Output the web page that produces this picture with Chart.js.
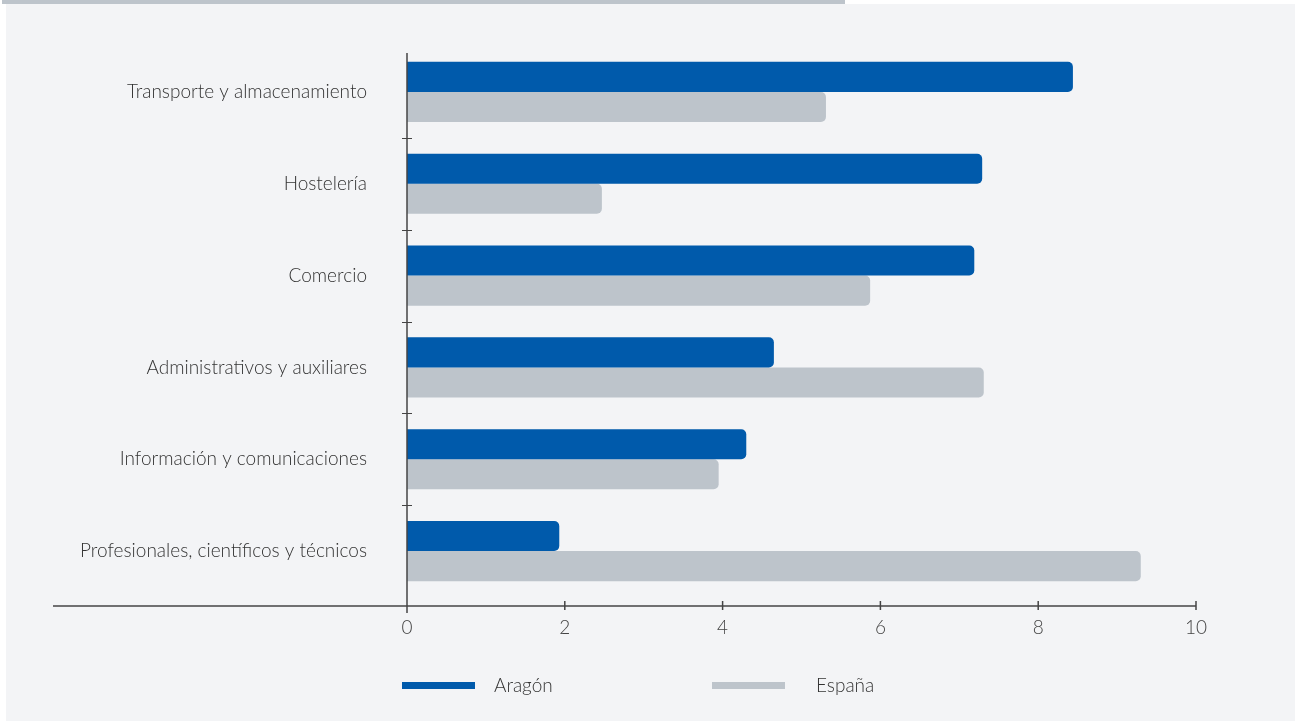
<!DOCTYPE html>
<html>
<head>
<meta charset="utf-8">
<script src="https://cdn.jsdelivr.net/npm/chart.js@4.4.1/dist/chart.umd.min.js"></script>
<style>
  html, body { margin: 0; padding: 0; background: #ffffff; }
  body { width: 1295px; height: 721px; position: relative; overflow: hidden; font-family: Lato, "Open Sans", sans-serif; }
  #band { position: absolute; left: 2px; top: 0; width: 843px; height: 4px; background: #bdc4cb; }
  #panel { position: absolute; left: 6px; top: 4px; width: 1289px; height: 717px; background: #f3f4f6; }
  #wrap { position: absolute; left: 0; top: 0; width: 1295px; height: 721px; }
  .leg { position: absolute; top: 673px; font-size: 19px; color: #333; font-weight: 300; }
  .leg span.sw { position: absolute; top: 9px; width: 73px; height: 7px; }
  .leg span.tx { position: absolute; white-space: nowrap; }
</style>
</head>
<body>
<div id="band"></div>
<div id="panel"></div>
<div id="wrap"><canvas id="chart" width="1295" height="721"></canvas></div>
<div class="leg" style="left:402px"><span class="sw" style="left:0;background:#005aab"></span><span class="tx" style="left:92px">Aragón</span></div>
<div class="leg" style="left:712px"><span class="sw" style="left:0;background:#bdc4cb"></span><span class="tx" style="left:104px">España</span></div>
<script>
const categories = [
  'Transporte y almacenamiento',
  'Hostelería',
  'Comercio',
  'Administrativos y auxiliares',
  'Información y comunicaciones',
  'Profesionales, científicos y técnicos'
];
const aragon = [8.44, 7.29, 7.19, 4.65, 4.30, 1.93];
const espana = [5.31, 2.47, 5.87, 7.31, 3.95, 9.30];
const xTicks = [0, 2, 4, 6, 8, 10];

const AXIS_COLOR = '#444';
const FONT = 'Lato, "Open Sans", sans-serif';

// Draw the axis lines and little tick marks like the original
const axisPlugin = {
  id: 'axisLines',
  afterDraw(chart) {
    const { ctx, chartArea: { top, bottom }, scales: { x, y } } = chart;
    const axisY = bottom + 9;
    ctx.save();
    ctx.strokeStyle = AXIS_COLOR;
    ctx.lineWidth = 1.5;

    // horizontal axis line
    ctx.beginPath();
    ctx.moveTo(53, axisY);
    ctx.lineTo(x.getPixelForValue(10), axisY);
    ctx.stroke();

    // x ticks
    xTicks.forEach(v => {
      const px = x.getPixelForValue(v);
      ctx.beginPath();
      if (v === 0) {
        ctx.moveTo(px, top + 7);
        ctx.lineTo(px, axisY + 7);
      } else {
        ctx.moveTo(px, axisY - 5);
        ctx.lineTo(px, axisY + 4);
      }
      ctx.stroke();
    });

    // category separators on y axis
    ctx.lineWidth = 1;
    const x0 = x.getPixelForValue(0);
    for (let i = 0; i < categories.length - 1; i++) {
      const py = Math.round((y.getPixelForValue(i) + y.getPixelForValue(i + 1)) / 2) + 0.5;
      ctx.beginPath();
      ctx.moveTo(x0 - 5, py);
      ctx.lineTo(x0 + 5, py);
      ctx.stroke();
    }
    ctx.restore();
  }
};

const ctx = document.getElementById('chart').getContext('2d');
new Chart(ctx, {
  type: 'bar',
  data: {
    labels: categories,
    datasets: [
      {
        label: 'Aragón',
        data: aragon,
        backgroundColor: '#005aab',
        borderRadius: { topRight: 5, bottomRight: 5 },
        borderSkipped: 'start'
      },
      {
        label: 'España',
        data: espana,
        backgroundColor: '#bdc4cb',
        borderRadius: { topRight: 5, bottomRight: 5 },
        borderSkipped: 'start'
      }
    ]
  },
  options: {
    indexAxis: 'y',
    responsive: false,
    animation: false,
    devicePixelRatio: 1,
    layout: { padding: { top: 46, right: 99, left: 0, bottom: 0 } },
    datasets: {
      bar: { categoryPercentage: 0.655, barPercentage: 1 }
    },
    plugins: {
      legend: { display: false },
      tooltip: { enabled: false }
    },
    scales: {
      x: {
        min: 0,
        max: 10,
        ticks: {
          stepSize: 2,
          padding: 19,
          color: '#444',
          font: { family: FONT, size: 19, weight: '300' }
        },
        grid: { display: false, drawTicks: false },
        border: { display: false },
        afterFit(scale) { scale.height = 124; }
      },
      y: {
        ticks: {
          padding: 40,
          color: '#333',
          font: { family: FONT, size: 19, weight: '300' }
        },
        grid: { display: false, drawTicks: false },
        border: { display: false },
        afterFit(scale) {
          scale.width = 407;
          // tick padding would otherwise push the plot area down
          scale.paddingTop = 0;
          scale.paddingBottom = 0;
        }
      }
    }
  },
  plugins: [axisPlugin]
});
</script>
</body>
</html>
